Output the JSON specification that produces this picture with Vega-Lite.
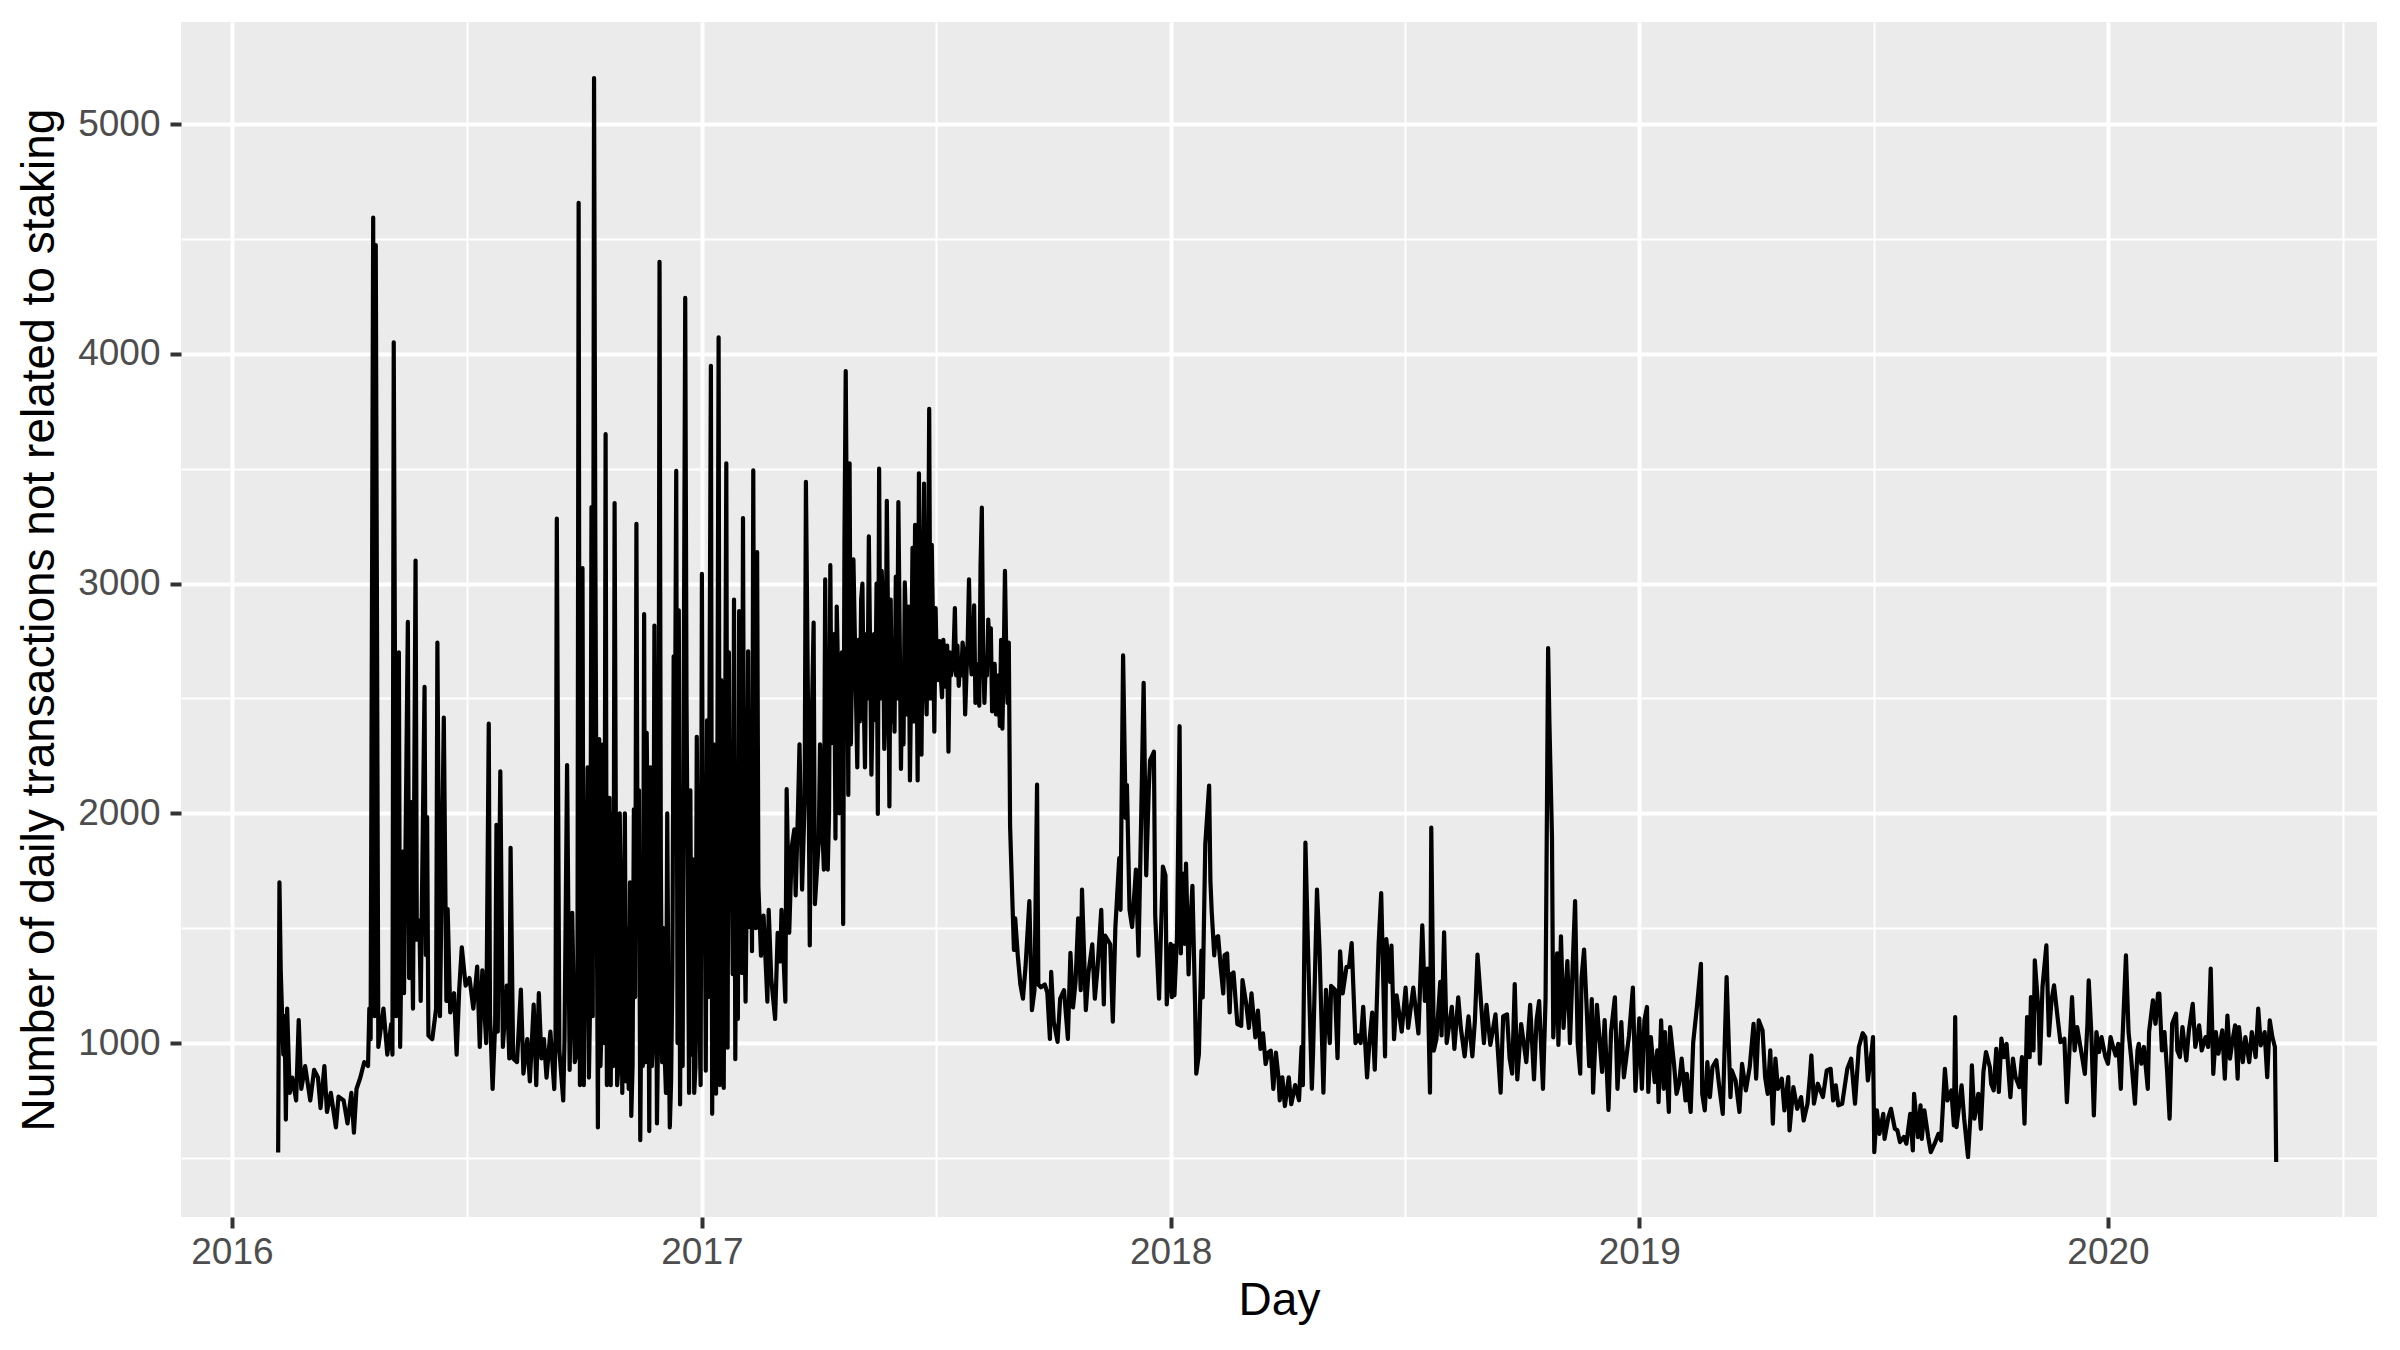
{
"$schema":"https://vega.github.io/schema/vega-lite/v6.json",
"width":2196,"height":1195,
"autosize":{"type":"none"},
"padding":{"left":181,"top":22,"right":23,"bottom":133},
"background":"white",
"view":{"fill":"#EBEBEB","stroke":null},
"config":{"axis":{"domain":false,"gridColor":"white","tickColor":"#333333","tickWidth":4,"tickSize":11,"labelFont":"Liberation Sans","labelFontSize":37,"labelColor":"#4D4D4D","titleFont":"Liberation Sans","titleFontSize":46,"titleColor":"black","titleFontWeight":"normal","labelFlush":false,"labelOverlap":false,"labelBound":false}},
"data":{"values":[
{"d":"2016-02-06","v":524},{"d":"2016-02-07","v":1700},{"d":"2016-02-08","v":1317},{"d":"2016-02-10","v":950},{"d":"2016-02-11","v":1117},{"d":"2016-02-12","v":667},{"d":"2016-02-13","v":1150},{"d":"2016-02-15","v":783},{"d":"2016-02-17","v":850},{"d":"2016-02-20","v":750},{"d":"2016-02-22","v":1100},{"d":"2016-02-24","v":800},{"d":"2016-02-27","v":900},{"d":"2016-03-02","v":750},{"d":"2016-03-05","v":883},{"d":"2016-03-08","v":850},{"d":"2016-03-10","v":717},{"d":"2016-03-13","v":900},{"d":"2016-03-15","v":700},{"d":"2016-03-18","v":783},{"d":"2016-03-22","v":633},{"d":"2016-03-24","v":767},{"d":"2016-03-28","v":750},{"d":"2016-03-31","v":650},{"d":"2016-04-03","v":783},{"d":"2016-04-05","v":610},{"d":"2016-04-07","v":800},{"d":"2016-04-10","v":850},{"d":"2016-04-13","v":917},{"d":"2016-04-16","v":900},{"d":"2016-04-17","v":1150},{"d":"2016-04-18","v":1017},{"d":"2016-04-20","v":4593},{"d":"2016-04-21","v":1117},{"d":"2016-04-22","v":4473},{"d":"2016-04-23","v":2783},{"d":"2016-04-24","v":983},{"d":"2016-04-28","v":1150},{"d":"2016-05-01","v":950},{"d":"2016-05-04","v":1083},{"d":"2016-05-05","v":950},{"d":"2016-05-06","v":4050},{"d":"2016-05-08","v":1117},{"d":"2016-05-10","v":2700},{"d":"2016-05-11","v":983},{"d":"2016-05-13","v":1833},{"d":"2016-05-14","v":1217},{"d":"2016-05-17","v":2833},{"d":"2016-05-18","v":1283},{"d":"2016-05-19","v":2050},{"d":"2016-05-21","v":1150},{"d":"2016-05-23","v":3100},{"d":"2016-05-24","v":1450},{"d":"2016-05-26","v":1533},{"d":"2016-05-27","v":1183},{"d":"2016-05-30","v":2550},{"d":"2016-05-31","v":1383},{"d":"2016-06-01","v":1983},{"d":"2016-06-02","v":1033},{"d":"2016-06-05","v":1017},{"d":"2016-06-08","v":1150},{"d":"2016-06-09","v":2743},{"d":"2016-06-11","v":1117},{"d":"2016-06-14","v":2417},{"d":"2016-06-16","v":1183},{"d":"2016-06-17","v":1583},{"d":"2016-06-19","v":1133},{"d":"2016-06-22","v":1217},{"d":"2016-06-24","v":950},{"d":"2016-06-26","v":1233},{"d":"2016-06-28","v":1417},{"d":"2016-07-01","v":1250},{"d":"2016-07-04","v":1283},{"d":"2016-07-07","v":1150},{"d":"2016-07-10","v":1333},{"d":"2016-07-12","v":983},{"d":"2016-07-14","v":1317},{"d":"2016-07-17","v":1000},{"d":"2016-07-19","v":2390},{"d":"2016-07-20","v":1117},{"d":"2016-07-22","v":800},{"d":"2016-07-24","v":1083},{"d":"2016-07-25","v":1950},{"d":"2016-07-26","v":1050},{"d":"2016-07-28","v":2183},{"d":"2016-07-30","v":983},{"d":"2016-08-02","v":1250},{"d":"2016-08-04","v":933},{"d":"2016-08-05","v":1850},{"d":"2016-08-07","v":933},{"d":"2016-08-10","v":917},{"d":"2016-08-13","v":1233},{"d":"2016-08-15","v":867},{"d":"2016-08-18","v":1017},{"d":"2016-08-20","v":833},{"d":"2016-08-23","v":1167},{"d":"2016-08-25","v":817},{"d":"2016-08-27","v":1217},{"d":"2016-08-29","v":933},{"d":"2016-08-31","v":1017},{"d":"2016-09-02","v":850},{"d":"2016-09-05","v":1050},{"d":"2016-09-08","v":800},{"d":"2016-09-09","v":1017},{"d":"2016-09-10","v":3283},{"d":"2016-09-12","v":967},{"d":"2016-09-15","v":750},{"d":"2016-09-16","v":1017},{"d":"2016-09-18","v":2210},{"d":"2016-09-20","v":883},{"d":"2016-09-22","v":1567},{"d":"2016-09-24","v":917},{"d":"2016-09-26","v":967},{"d":"2016-09-27","v":4657},{"d":"2016-09-28","v":817},{"d":"2016-09-30","v":3067},{"d":"2016-10-01","v":817},{"d":"2016-10-03","v":1650},{"d":"2016-10-05","v":850},{"d":"2016-10-07","v":3333},{"d":"2016-10-08","v":1117},{"d":"2016-10-09","v":5200},{"d":"2016-10-10","v":3150},{"d":"2016-10-12","v":633},{"d":"2016-10-13","v":2323},{"d":"2016-10-15","v":1117},{"d":"2016-10-18","v":3650},{"d":"2016-10-19","v":817},{"d":"2016-10-21","v":2067},{"d":"2016-10-22","v":817},{"d":"2016-10-25","v":3350},{"d":"2016-10-27","v":817},{"d":"2016-10-29","v":2000},{"d":"2016-10-31","v":783},{"d":"2016-11-03","v":833},{"d":"2016-11-07","v":683},{"d":"2016-11-09","v":2017},{"d":"2016-11-11","v":3260},{"d":"2016-11-12","v":1517},{"d":"2016-11-14","v":577},{"d":"2016-11-15","v":1317},{"d":"2016-11-17","v":2867},{"d":"2016-11-18","v":917},{"d":"2016-11-19","v":2350},{"d":"2016-11-21","v":617},{"d":"2016-11-24","v":1017},{"d":"2016-11-25","v":2817},{"d":"2016-11-27","v":650},{"d":"2016-11-29","v":4400},{"d":"2016-12-01","v":917},{"d":"2016-12-03","v":950},{"d":"2016-12-04","v":783},{"d":"2016-12-07","v":633},{"d":"2016-12-08","v":833},{"d":"2016-12-10","v":2683},{"d":"2016-12-11","v":2283},{"d":"2016-12-12","v":3490},{"d":"2016-12-14","v":2883},{"d":"2016-12-15","v":733},{"d":"2016-12-18","v":2750},{"d":"2016-12-19","v":4243},{"d":"2016-12-21","v":1683},{"d":"2016-12-22","v":783},{"d":"2016-12-24","v":950},{"d":"2016-12-26","v":783},{"d":"2016-12-28","v":2333},{"d":"2016-12-30","v":1117},{"d":"2016-12-31","v":817},
{"d":"2016-10-02","v":1350},{"d":"2016-10-04","v":2200},{"d":"2016-10-06","v":1200},{"d":"2016-10-11","v":1800},{"d":"2016-10-14","v":900},{"d":"2016-10-16","v":2300},{"d":"2016-10-17","v":1000},{"d":"2016-10-20","v":1500},{"d":"2016-10-23","v":2000},{"d":"2016-10-24","v":900},{"d":"2016-10-26","v":1900},{"d":"2016-10-28","v":900},{"d":"2016-10-30","v":1500},{"d":"2016-11-01","v":1300},{"d":"2016-11-02","v":2000},{"d":"2016-11-04","v":1500},{"d":"2016-11-05","v":800},{"d":"2016-11-06","v":1700},{"d":"2016-11-08","v":900},{"d":"2016-11-10","v":1200},{"d":"2016-11-13","v":2100},{"d":"2016-11-16","v":900},{"d":"2016-11-20","v":1800},{"d":"2016-11-22","v":2200},{"d":"2016-11-23","v":900},{"d":"2016-11-26","v":1900},{"d":"2016-11-28","v":1100},{"d":"2016-11-30","v":1800},{"d":"2016-12-02","v":1500},{"d":"2016-12-05","v":2000},{"d":"2016-12-06","v":1100},{"d":"2016-12-09","v":1300},{"d":"2016-12-13","v":1000},{"d":"2016-12-16","v":1900},{"d":"2016-12-17","v":900},{"d":"2016-12-20","v":2500},{"d":"2016-12-23","v":2100},{"d":"2016-12-25","v":1800},{"d":"2016-12-27","v":900},{"d":"2016-12-29","v":1600},
{"d":"2017-01-03","v":2000},{"d":"2017-01-06","v":1200},{"d":"2017-01-07","v":2600},{"d":"2017-01-10","v":2300},{"d":"2017-01-13","v":2100},{"d":"2017-01-17","v":1500},{"d":"2017-01-19","v":2200},{"d":"2017-01-22","v":2700},{"d":"2017-01-25","v":1300},{"d":"2017-01-28","v":2000},{"d":"2017-01-31","v":2400},{"d":"2017-02-05","v":1700},{"d":"2017-02-08","v":2400},{"d":"2017-02-09","v":1400},{"d":"2017-02-12","v":1500},
{"d":"2017-04-03","v":2300},{"d":"2017-04-05","v":1900},{"d":"2017-04-08","v":2200},{"d":"2017-04-10","v":2000},{"d":"2017-04-13","v":2500},{"d":"2017-04-16","v":2900},{"d":"2017-04-18","v":2000},{"d":"2017-04-20","v":2700},{"d":"2017-04-24","v":3100},{"d":"2017-04-27","v":2300},{"d":"2017-04-30","v":2800},{"d":"2017-05-02","v":2200},{"d":"2017-05-04","v":2400},{"d":"2017-05-06","v":3000},{"d":"2017-05-08","v":2200},{"d":"2017-05-10","v":2500},{"d":"2017-05-12","v":2700},{"d":"2017-05-14","v":2500},{"d":"2017-05-17","v":3000},{"d":"2017-05-20","v":2500},{"d":"2017-05-22","v":2900},{"d":"2017-05-24","v":2500},{"d":"2017-05-26","v":2800},{"d":"2017-05-29","v":2400},{"d":"2017-05-30","v":2700},{"d":"2017-06-02","v":2500},{"d":"2017-06-04","v":2800},{"d":"2017-06-06","v":2600},{"d":"2017-06-07","v":2300},{"d":"2017-06-09","v":2800},{"d":"2017-06-11","v":2900},{"d":"2017-06-13","v":2600},{"d":"2017-06-15","v":2400},{"d":"2017-06-17","v":2800},{"d":"2017-06-20","v":2700},{"d":"2017-06-22","v":2900},{"d":"2017-06-24","v":2600},{"d":"2017-06-26","v":2800},{"d":"2017-06-28","v":2500},{"d":"2017-06-30","v":2800},{"d":"2017-07-03","v":2600},{"d":"2017-07-05","v":2750},{"d":"2017-07-06","v":2600},{"d":"2017-07-09","v":2650},{"d":"2017-07-10","v":2550},{"d":"2017-07-13","v":2700},{"d":"2017-07-14","v":2600},{"d":"2017-07-16","v":2700},{"d":"2017-07-18","v":2600},{"d":"2017-07-21","v":2650},{"d":"2017-07-22","v":2600},{"d":"2017-07-24","v":2700},{"d":"2017-07-26","v":2600},{"d":"2017-07-27","v":2750},{"d":"2017-07-29","v":2700},{"d":"2017-07-31","v":2650},{"d":"2017-08-03","v":2650},{"d":"2017-08-04","v":2600},{"d":"2017-08-08","v":2700},{"d":"2017-08-10","v":2650},{"d":"2017-08-11","v":2600},{"d":"2017-08-13","v":2700},{"d":"2017-08-16","v":2600},{"d":"2017-08-17","v":2650},{"d":"2017-08-20","v":2600},{"d":"2017-08-24","v":2650},{"d":"2017-08-26","v":2700},
{"d":"2017-01-01","v":3042},{"d":"2017-01-02","v":1480},{"d":"2017-01-04","v":880},{"d":"2017-01-05","v":2405},{"d":"2017-01-08","v":3948},{"d":"2017-01-09","v":692},{"d":"2017-01-11","v":1330},{"d":"2017-01-12","v":780},{"d":"2017-01-14","v":4072},{"d":"2017-01-15","v":817},{"d":"2017-01-16","v":2580},{"d":"2017-01-18","v":805},{"d":"2017-01-20","v":3523},{"d":"2017-01-21","v":980},{"d":"2017-01-23","v":1580},{"d":"2017-01-24","v":2030},{"d":"2017-01-26","v":2930},{"d":"2017-01-27","v":930},{"d":"2017-01-29","v":1105},{"d":"2017-01-30","v":2880},{"d":"2017-02-01","v":1305},{"d":"2017-02-02","v":3285},{"d":"2017-02-03","v":1530},{"d":"2017-02-04","v":1180},{"d":"2017-02-06","v":2705},{"d":"2017-02-07","v":1505},{"d":"2017-02-10","v":3493},{"d":"2017-02-11","v":1605},{"d":"2017-02-13","v":3137},{"d":"2017-02-14","v":1680},{"d":"2017-02-16","v":1380},{"d":"2017-02-18","v":1555},{"d":"2017-02-21","v":1180},{"d":"2017-02-22","v":1580},{"d":"2017-02-24","v":1280},{"d":"2017-02-27","v":1105},{"d":"2017-03-01","v":1480},{"d":"2017-03-03","v":1355},{"d":"2017-03-04","v":1580},{"d":"2017-03-07","v":1180},{"d":"2017-03-08","v":2105},{"d":"2017-03-10","v":1480},{"d":"2017-03-12","v":1855},{"d":"2017-03-14","v":1930},{"d":"2017-03-15","v":1643},{"d":"2017-03-17","v":2055},{"d":"2017-03-18","v":2300},{"d":"2017-03-20","v":1668},{"d":"2017-03-22","v":2055},{"d":"2017-03-23","v":3443},{"d":"2017-03-25","v":2230},{"d":"2017-03-26","v":1425},{"d":"2017-03-27","v":2230},{"d":"2017-03-29","v":2830},{"d":"2017-03-30","v":1605},{"d":"2017-04-02","v":1880},{"d":"2017-04-04","v":2105},{"d":"2017-04-06","v":1755},{"d":"2017-04-07","v":3018},{"d":"2017-04-09","v":1755},{"d":"2017-04-11","v":3080},{"d":"2017-04-12","v":2305},{"d":"2017-04-14","v":2780},{"d":"2017-04-15","v":1890},{"d":"2017-04-17","v":2618},{"d":"2017-04-19","v":2480},{"d":"2017-04-21","v":1518},{"d":"2017-04-22","v":3180},{"d":"2017-04-23","v":3925},{"d":"2017-04-25","v":2080},{"d":"2017-04-26","v":3523},{"d":"2017-04-28","v":2680},{"d":"2017-04-29","v":3105},{"d":"2017-05-01","v":2505},{"d":"2017-05-03","v":2755},{"d":"2017-05-05","v":2930},{"d":"2017-05-07","v":2505},{"d":"2017-05-09","v":2780},{"d":"2017-05-11","v":3205},{"d":"2017-05-13","v":2168},{"d":"2017-05-15","v":2780},{"d":"2017-05-16","v":2405},{"d":"2017-05-18","v":1997},{"d":"2017-05-19","v":3500},{"d":"2017-05-21","v":3055},{"d":"2017-05-23","v":2280},{"d":"2017-05-25","v":3360},{"d":"2017-05-27","v":2030},{"d":"2017-05-28","v":2930},{"d":"2017-05-31","v":2355},{"d":"2017-06-01","v":3030},{"d":"2017-06-03","v":3355},{"d":"2017-06-05","v":2193},{"d":"2017-06-08","v":3005},{"d":"2017-06-10","v":2430},{"d":"2017-06-12","v":2143},{"d":"2017-06-14","v":3155},{"d":"2017-06-16","v":3255},{"d":"2017-06-18","v":2143},{"d":"2017-06-19","v":3480},{"d":"2017-06-21","v":2255},{"d":"2017-06-23","v":3435},{"d":"2017-06-25","v":2430},{"d":"2017-06-27","v":3760},{"d":"2017-06-29","v":3168},{"d":"2017-07-01","v":2355},{"d":"2017-07-02","v":2893},{"d":"2017-07-04","v":2580},{"d":"2017-07-07","v":2505},{"d":"2017-07-08","v":2755},{"d":"2017-07-11","v":2730},{"d":"2017-07-12","v":2268},{"d":"2017-07-15","v":2630},{"d":"2017-07-17","v":2893},{"d":"2017-07-19","v":2730},{"d":"2017-07-20","v":2555},{"d":"2017-07-23","v":2743},{"d":"2017-07-25","v":2430},{"d":"2017-07-28","v":3018},{"d":"2017-07-30","v":2605},{"d":"2017-08-01","v":2905},{"d":"2017-08-02","v":2480},{"d":"2017-08-05","v":2468},{"d":"2017-08-06","v":3080},{"d":"2017-08-07","v":3330},{"d":"2017-08-09","v":2480},{"d":"2017-08-12","v":2843},{"d":"2017-08-14","v":2805},{"d":"2017-08-15","v":2443},{"d":"2017-08-18","v":2430},{"d":"2017-08-19","v":2555},{"d":"2017-08-21","v":2380},{"d":"2017-08-22","v":2755},{"d":"2017-08-23","v":2368},{"d":"2017-08-25","v":3055},{"d":"2017-08-27","v":2480},{"d":"2017-08-28","v":2743},{"d":"2017-08-29","v":1943},{"d":"2017-08-31","v":1580},{"d":"2017-09-01","v":1405},{"d":"2017-09-02","v":1543},{"d":"2017-09-04","v":1380},{"d":"2017-09-06","v":1255},{"d":"2017-09-08","v":1193},{"d":"2017-09-10","v":1330},{"d":"2017-09-13","v":1618},{"d":"2017-09-15","v":1143},{"d":"2017-09-17","v":1230},{"d":"2017-09-19","v":2125},{"d":"2017-09-20","v":1255},{"d":"2017-09-22","v":1243},{"d":"2017-09-25","v":1255},{"d":"2017-09-27","v":1218},{"d":"2017-09-29","v":1018},{"d":"2017-09-30","v":1310},{"d":"2017-10-02","v":1093},{"d":"2017-10-05","v":1005},{"d":"2017-10-07","v":1193},{"d":"2017-10-10","v":1230},{"d":"2017-10-13","v":1018},{"d":"2017-10-15","v":1393},{"d":"2017-10-17","v":1155},{"d":"2017-10-19","v":1268},{"d":"2017-10-21","v":1543},{"d":"2017-10-23","v":1230},{"d":"2017-10-24","v":1668},{"d":"2017-10-27","v":1143},{"d":"2017-10-29","v":1305},{"d":"2017-11-01","v":1430},{"d":"2017-11-03","v":1193},{"d":"2017-11-05","v":1318},{"d":"2017-11-08","v":1580},{"d":"2017-11-10","v":1168},{"d":"2017-11-11","v":1468},{"d":"2017-11-15","v":1430},{"d":"2017-11-17","v":1093},{"d":"2017-11-19","v":1505},{"d":"2017-11-22","v":1805},{"d":"2017-11-23","v":1580},{"d":"2017-11-25","v":2688},{"d":"2017-11-27","v":1980},{"d":"2017-11-28","v":2123},{"d":"2017-11-30","v":1580},{"d":"2017-12-02","v":1505},{"d":"2017-12-05","v":1755},{"d":"2017-12-07","v":1380},{"d":"2017-12-09","v":1955},{"d":"2017-12-11","v":2568},{"d":"2017-12-13","v":1730},{"d":"2017-12-15","v":2105},{"d":"2017-12-16","v":2230},{"d":"2017-12-19","v":2268},{"d":"2017-12-20","v":1555},{"d":"2017-12-23","v":1193},{"d":"2017-12-26","v":1768},{"d":"2017-12-28","v":1730},{"d":"2017-12-29","v":1168},
{"d":"2018-01-01","v":1432},{"d":"2018-01-02","v":1200},{"d":"2018-01-03","v":1424},{"d":"2018-01-04","v":1208},{"d":"2018-01-06","v":1465},{"d":"2018-01-08","v":2379},{"d":"2018-01-09","v":1390},{"d":"2018-01-10","v":1739},{"d":"2018-01-12","v":1432},{"d":"2018-01-13","v":1781},{"d":"2018-01-15","v":1299},{"d":"2018-01-16","v":1482},{"d":"2018-01-18","v":1684},{"d":"2018-01-20","v":1183},{"d":"2018-01-21","v":867},{"d":"2018-01-23","v":950},{"d":"2018-01-25","v":1402},{"d":"2018-01-26","v":1199},{"d":"2018-01-28","v":1864},{"d":"2018-01-31","v":2121},{"d":"2018-02-01","v":1706},{"d":"2018-02-02","v":1573},{"d":"2018-02-04","v":1382},{"d":"2018-02-05","v":1457},{"d":"2018-02-07","v":1465},{"d":"2018-02-09","v":1332},{"d":"2018-02-11","v":1216},{"d":"2018-02-12","v":1382},{"d":"2018-02-14","v":1390},{"d":"2018-02-16","v":1133},{"d":"2018-02-17","v":1299},{"d":"2018-02-19","v":1307},{"d":"2018-02-22","v":1083},{"d":"2018-02-25","v":1075},{"d":"2018-02-26","v":1274},{"d":"2018-03-01","v":1166},{"d":"2018-03-03","v":1066},{"d":"2018-03-05","v":1216},{"d":"2018-03-08","v":1025},{"d":"2018-03-10","v":1141},{"d":"2018-03-12","v":975},{"d":"2018-03-14","v":1042},{"d":"2018-03-16","v":909},{"d":"2018-03-18","v":958},{"d":"2018-03-20","v":967},{"d":"2018-03-22","v":801},{"d":"2018-03-24","v":958},{"d":"2018-03-26","v":851},{"d":"2018-03-27","v":751},{"d":"2018-03-29","v":851},{"d":"2018-03-31","v":726},{"d":"2018-04-03","v":851},{"d":"2018-04-05","v":734},{"d":"2018-04-08","v":817},{"d":"2018-04-11","v":751},{"d":"2018-04-13","v":983},{"d":"2018-04-14","v":817},{"d":"2018-04-16","v":1872},{"d":"2018-04-18","v":1415},{"d":"2018-04-21","v":801},{"d":"2018-04-22","v":967},{"d":"2018-04-25","v":1668},{"d":"2018-04-27","v":1407},{"d":"2018-04-30","v":784},{"d":"2018-05-02","v":1232},{"d":"2018-05-05","v":1000},{"d":"2018-05-06","v":1249},{"d":"2018-05-09","v":1232},{"d":"2018-05-11","v":934},{"d":"2018-05-13","v":1399},{"d":"2018-05-15","v":1216},{"d":"2018-05-18","v":1332},{"d":"2018-05-20","v":1332},{"d":"2018-05-22","v":1435},{"d":"2018-05-25","v":1000},{"d":"2018-05-27","v":1033},{"d":"2018-05-29","v":1000},{"d":"2018-05-31","v":1158},{"d":"2018-06-03","v":851},{"d":"2018-06-05","v":1017},{"d":"2018-06-07","v":1133},{"d":"2018-06-09","v":884},{"d":"2018-06-12","v":1432},{"d":"2018-06-14","v":1653},{"d":"2018-06-17","v":942},{"d":"2018-06-18","v":1452},{"d":"2018-06-21","v":1266},{"d":"2018-06-22","v":1424},{"d":"2018-06-24","v":1017},{"d":"2018-06-26","v":1208},{"d":"2018-06-30","v":1050},{"d":"2018-07-03","v":1241},{"d":"2018-07-05","v":1066},{"d":"2018-07-09","v":1241},{"d":"2018-07-13","v":1042},{"d":"2018-07-16","v":1512},{"d":"2018-07-18","v":1183},{"d":"2018-07-20","v":1324},{"d":"2018-07-22","v":784},{"d":"2018-07-23","v":1938},{"d":"2018-07-25","v":967},{"d":"2018-07-27","v":1017},{"d":"2018-07-30","v":1266},{"d":"2018-07-31","v":1033},{"d":"2018-08-02","v":1482},{"d":"2018-08-04","v":1000},{"d":"2018-08-08","v":1158},{"d":"2018-08-10","v":975},{"d":"2018-08-13","v":1199},{"d":"2018-08-15","v":1066},{"d":"2018-08-18","v":942},{"d":"2018-08-21","v":1116},{"d":"2018-08-24","v":942},{"d":"2018-08-26","v":1100},{"d":"2018-08-28","v":1385},{"d":"2018-08-30","v":1232},{"d":"2018-09-02","v":1000},{"d":"2018-09-04","v":1166},{"d":"2018-09-07","v":992},{"d":"2018-09-11","v":1125},{"d":"2018-09-15","v":784},{"d":"2018-09-17","v":1116},{"d":"2018-09-20","v":1125},{"d":"2018-09-22","v":934},{"d":"2018-09-24","v":867},{"d":"2018-09-26","v":1257},{"d":"2018-09-28","v":842},{"d":"2018-10-01","v":1083},{"d":"2018-10-05","v":917},{"d":"2018-10-08","v":1166},{"d":"2018-10-11","v":842},{"d":"2018-10-13","v":1100},{"d":"2018-10-15","v":1183},{"d":"2018-10-18","v":801},{"d":"2018-10-20","v":1191},{"d":"2018-10-22","v":2719},{"d":"2018-10-23","v":2395},{"d":"2018-10-25","v":1897},{"d":"2018-10-26","v":1025},{"d":"2018-10-29","v":1390},{"d":"2018-10-30","v":992},{"d":"2018-11-01","v":1465},{"d":"2018-11-03","v":1066},{"d":"2018-11-06","v":1357},{"d":"2018-11-08","v":1000},{"d":"2018-11-10","v":1316},{"d":"2018-11-12","v":1618},{"d":"2018-11-14","v":1000},{"d":"2018-11-16","v":867},{"d":"2018-11-17","v":1282},{"d":"2018-11-19","v":1407},{"d":"2018-11-23","v":900},{"d":"2018-11-25","v":1191},{"d":"2018-11-26","v":784},{"d":"2018-11-29","v":1166},{"d":"2018-12-03","v":875},{"d":"2018-12-05","v":1100},{"d":"2018-12-08","v":709},{"d":"2018-12-10","v":1050},{"d":"2018-12-13","v":1199},{"d":"2018-12-15","v":801},{"d":"2018-12-18","v":1091},{"d":"2018-12-20","v":851},{"d":"2018-12-24","v":1033},{"d":"2018-12-27","v":1241},{"d":"2018-12-29","v":792},
{"d":"2019-01-01","v":1108},{"d":"2019-01-03","v":801},{"d":"2019-01-05","v":1100},{"d":"2019-01-07","v":1157},{"d":"2019-01-08","v":787},{"d":"2019-01-10","v":1026},{"d":"2019-01-13","v":830},{"d":"2019-01-15","v":968},{"d":"2019-01-16","v":743},{"d":"2019-01-18","v":1099},{"d":"2019-01-20","v":801},{"d":"2019-01-21","v":1048},{"d":"2019-01-24","v":700},{"d":"2019-01-25","v":1070},{"d":"2019-01-28","v":910},{"d":"2019-01-30","v":779},{"d":"2019-02-01","v":823},{"d":"2019-02-03","v":932},{"d":"2019-02-06","v":750},{"d":"2019-02-07","v":866},{"d":"2019-02-10","v":700},{"d":"2019-02-12","v":1004},{"d":"2019-02-15","v":1164},{"d":"2019-02-18","v":1345},{"d":"2019-02-19","v":779},{"d":"2019-02-21","v":707},{"d":"2019-02-23","v":917},{"d":"2019-02-25","v":765},{"d":"2019-02-27","v":896},{"d":"2019-03-02","v":925},{"d":"2019-03-04","v":823},{"d":"2019-03-07","v":692},{"d":"2019-03-10","v":1287},{"d":"2019-03-13","v":765},{"d":"2019-03-14","v":881},{"d":"2019-03-17","v":837},{"d":"2019-03-20","v":700},{"d":"2019-03-22","v":910},{"d":"2019-03-25","v":794},{"d":"2019-03-28","v":896},{"d":"2019-03-31","v":1084},{"d":"2019-04-02","v":845},{"d":"2019-04-04","v":1099},{"d":"2019-04-07","v":1055},{"d":"2019-04-09","v":852},{"d":"2019-04-11","v":779},{"d":"2019-04-13","v":968},{"d":"2019-04-15","v":649},{"d":"2019-04-17","v":932},{"d":"2019-04-19","v":801},{"d":"2019-04-22","v":845},{"d":"2019-04-24","v":707},{"d":"2019-04-27","v":852},{"d":"2019-04-28","v":620},{"d":"2019-05-01","v":808},{"d":"2019-05-04","v":714},{"d":"2019-05-07","v":765},{"d":"2019-05-09","v":663},{"d":"2019-05-12","v":736},{"d":"2019-05-14","v":866},{"d":"2019-05-15","v":946},{"d":"2019-05-17","v":736},{"d":"2019-05-20","v":823},{"d":"2019-05-24","v":765},{"d":"2019-05-27","v":881},{"d":"2019-05-30","v":888},{"d":"2019-06-01","v":750},{"d":"2019-06-03","v":816},{"d":"2019-06-05","v":729},{"d":"2019-06-08","v":736},{"d":"2019-06-12","v":888},{"d":"2019-06-15","v":932},{"d":"2019-06-18","v":736},{"d":"2019-06-21","v":983},{"d":"2019-06-24","v":1043},{"d":"2019-06-26","v":1026},{"d":"2019-06-28","v":837},{"d":"2019-07-01","v":968},{"d":"2019-07-02","v":1026},{"d":"2019-07-03","v":525},{"d":"2019-07-05","v":707},{"d":"2019-07-07","v":605},{"d":"2019-07-10","v":692},{"d":"2019-07-11","v":583},{"d":"2019-07-14","v":678},{"d":"2019-07-16","v":714},{"d":"2019-07-19","v":627},{"d":"2019-07-21","v":620},{"d":"2019-07-23","v":569},{"d":"2019-07-26","v":591},{"d":"2019-07-28","v":562},{"d":"2019-07-31","v":692},{"d":"2019-08-02","v":533},{"d":"2019-08-03","v":779},{"d":"2019-08-06","v":591},{"d":"2019-08-08","v":729},{"d":"2019-08-09","v":583},{"d":"2019-08-11","v":707},{"d":"2019-08-14","v":591},{"d":"2019-08-16","v":525},{"d":"2019-08-19","v":562},{"d":"2019-08-22","v":605},{"d":"2019-08-24","v":576},{"d":"2019-08-27","v":888},{"d":"2019-08-29","v":750},{"d":"2019-09-01","v":794},{"d":"2019-09-03","v":642},{"d":"2019-09-04","v":1113},{"d":"2019-09-05","v":634},{"d":"2019-09-09","v":816},{"d":"2019-09-11","v":671},{"d":"2019-09-14","v":504},{"d":"2019-09-16","v":692},{"d":"2019-09-17","v":903},{"d":"2019-09-19","v":671},{"d":"2019-09-22","v":779},{"d":"2019-09-24","v":627},{"d":"2019-09-26","v":874},{"d":"2019-09-28","v":961},{"d":"2019-10-01","v":896},{"d":"2019-10-02","v":823},{"d":"2019-10-04","v":794},{"d":"2019-10-06","v":975},{"d":"2019-10-08","v":787},{"d":"2019-10-10","v":1019},{"d":"2019-10-12","v":939},{"d":"2019-10-14","v":997},{"d":"2019-10-17","v":765},{"d":"2019-10-19","v":932},{"d":"2019-10-21","v":852},{"d":"2019-10-24","v":808},{"d":"2019-10-26","v":939},{"d":"2019-10-28","v":649},{"d":"2019-10-30","v":1113},{"d":"2019-11-01","v":939},{"d":"2019-11-02","v":1200},{"d":"2019-11-04","v":968},{"d":"2019-11-05","v":1360},{"d":"2019-11-08","v":1128},{"d":"2019-11-09","v":910},{"d":"2019-11-11","v":1244},{"d":"2019-11-14","v":1425},{"d":"2019-11-16","v":1033},{"d":"2019-11-18","v":1186},{"d":"2019-11-20","v":1251},{"d":"2019-11-23","v":1099},{"d":"2019-11-25","v":1004},{"d":"2019-11-28","v":1019},{"d":"2019-11-30","v":743},{"d":"2019-12-02","v":968},{"d":"2019-12-04","v":1200},{"d":"2019-12-06","v":968},{"d":"2019-12-08","v":1070},{"d":"2019-12-11","v":968},{"d":"2019-12-14","v":866},{"d":"2019-12-16","v":1084},{"d":"2019-12-17","v":1273},{"d":"2019-12-19","v":1048},{"d":"2019-12-21","v":685},{"d":"2019-12-23","v":1048},{"d":"2019-12-25","v":961},{"d":"2019-12-27","v":1026},{"d":"2019-12-30","v":939},
{"d":"2020-01-01","v":910},{"d":"2020-01-03","v":1026},{"d":"2020-01-05","v":983},{"d":"2020-01-07","v":946},{"d":"2020-01-09","v":997},{"d":"2020-01-11","v":801},{"d":"2020-01-12","v":975},{"d":"2020-01-15","v":1382},{"d":"2020-01-17","v":1048},{"d":"2020-01-19","v":939},{"d":"2020-01-22","v":736},{"d":"2020-01-24","v":968},{"d":"2020-01-25","v":997},{"d":"2020-01-27","v":910},{"d":"2020-01-29","v":983},{"d":"2020-02-01","v":801},{"d":"2020-02-02","v":1048},{"d":"2020-02-05","v":1186},{"d":"2020-02-07","v":1084},{"d":"2020-02-09","v":1215},{"d":"2020-02-10","v":1215},{"d":"2020-02-12","v":968},{"d":"2020-02-14","v":1048},{"d":"2020-02-16","v":881},{"d":"2020-02-18","v":671},{"d":"2020-02-20","v":1084},{"d":"2020-02-23","v":1128},{"d":"2020-02-24","v":968},{"d":"2020-02-26","v":939},{"d":"2020-02-28","v":1070},{"d":"2020-03-02","v":925},{"d":"2020-03-04","v":1055},{"d":"2020-03-07","v":1171},{"d":"2020-03-09","v":983},{"d":"2020-03-12","v":1077},{"d":"2020-03-14","v":968},{"d":"2020-03-17","v":1026},{"d":"2020-03-19","v":983},{"d":"2020-03-21","v":1324},{"d":"2020-03-23","v":866},{"d":"2020-03-25","v":1048},{"d":"2020-03-27","v":954},{"d":"2020-03-30","v":1055},{"d":"2020-04-01","v":845},{"d":"2020-04-03","v":1120},{"d":"2020-04-05","v":932},{"d":"2020-04-07","v":1012},{"d":"2020-04-09","v":1077},{"d":"2020-04-11","v":845},{"d":"2020-04-12","v":1070},{"d":"2020-04-15","v":917},{"d":"2020-04-17","v":1026},{"d":"2020-04-20","v":917},{"d":"2020-04-22","v":1048},{"d":"2020-04-25","v":939},{"d":"2020-04-27","v":1150},{"d":"2020-04-29","v":990},{"d":"2020-05-02","v":1048},{"d":"2020-05-04","v":852},{"d":"2020-05-06","v":1099},{"d":"2020-05-08","v":1026},{"d":"2020-05-10","v":983},{"d":"2020-05-11","v":482}
]},
"mark":{"type":"line","color":"black","strokeWidth":4.2,"strokeJoin":"round","strokeCap":"butt","clip":true},
"encoding":{
"x":{"field":"d","type":"temporal","title":"Day","sort":"ascending",
"scale":{"type":"utc","nice":false,"domain":[{"year":2015,"month":11,"date":22,"hours":8,"utc":true},{"year":2020,"month":7,"date":28,"hours":12,"utc":true}]},
"axis":{"values":[{"year":2016,"month":1,"date":1,"utc":true},{"year":2016,"month":7,"date":2,"utc":true},{"year":2017,"month":1,"date":1,"utc":true},{"year":2017,"month":7,"date":2,"hours":12,"utc":true},{"year":2018,"month":1,"date":1,"utc":true},{"year":2018,"month":7,"date":2,"hours":12,"utc":true},{"year":2019,"month":1,"date":1,"utc":true},{"year":2019,"month":7,"date":2,"hours":12,"utc":true},{"year":2020,"month":1,"date":1,"utc":true},{"year":2020,"month":7,"date":2,"utc":true}],
"labelExpr":"utcmonth(datum.value) === 0 ? utcFormat(datum.value, '%Y') : ''",
"gridWidth":{"condition":{"test":"utcmonth(datum.value) === 0","value":4},"value":2},
"tickOpacity":{"condition":{"test":"utcmonth(datum.value) === 0","value":1},"value":0},
"labelPadding":6,"titlePadding":8}},
"y":{"field":"v","type":"quantitative","title":"Number of daily transactions not related to staking",
"scale":{"domain":[243,5444],"nice":false,"zero":false},
"axis":{"values":[500,1000,1500,2000,2500,3000,3500,4000,4500,5000],
"labelExpr":"datum.value % 1000 === 0 ? format(datum.value, 'd') : ''",
"gridWidth":{"condition":{"test":"datum.value % 1000 === 0","value":4},"value":2},
"tickOpacity":{"condition":{"test":"datum.value % 1000 === 0","value":1},"value":0},
"labelPadding":10,"titlePadding":14}}
}
}
